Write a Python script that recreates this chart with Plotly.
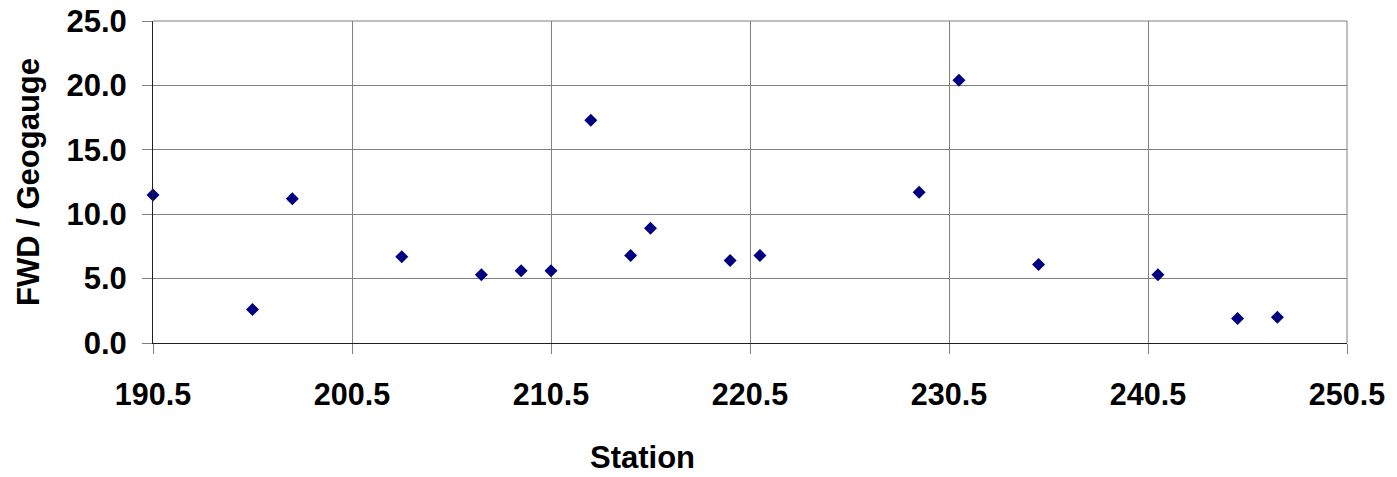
import plotly.graph_objects as go

station = [190.5, 195.5, 197.5, 203.0, 207.0, 209.0, 210.5, 212.5, 214.5, 215.5,
           219.5, 221.0, 229.0, 231.0, 235.0, 241.0, 245.0, 247.0]
ratio = [11.5, 2.6, 11.2, 6.7, 5.3, 5.6, 5.6, 17.3, 6.8, 8.9,
         6.4, 6.8, 11.7, 20.4, 6.1, 5.3, 1.9, 2.0]

x_ticks = [190.5, 200.5, 210.5, 220.5, 230.5, 240.5, 250.5]
y_ticks = [0, 5, 10, 15, 20, 25]

FONT = "Liberation Sans, Arial, sans-serif"

fig = go.Figure()
fig.add_trace(go.Scatter(
    x=station, y=ratio, mode="markers",
    marker=dict(symbol="diamond", size=10, color="#000080", line=dict(width=0)),
    showlegend=False, cliponaxis=False,
))

fig.update_layout(
    width=1397, height=477,
    margin=dict(l=153, r=50, t=21, b=134),
    paper_bgcolor="white", plot_bgcolor="white",
    font=dict(family=FONT, color="black", size=28, weight="bold"),
    xaxis=dict(
        range=[190.5, 250.5], tickmode="array", tickvals=x_ticks,
        ticktext=[f"{v:.1f}" for v in x_ticks],
        showgrid=True, gridcolor="#808080", gridwidth=1,
        showline=True, linecolor="#202020", linewidth=1,
        ticks="outside", ticklen=10, tickcolor="#808080", tickwidth=1,
        ticklabelstandoff=14, automargin=False,
        tickfont=dict(family=FONT, size=30.5, weight="bold"),
        zeroline=False,
    ),
    yaxis=dict(
        range=[0, 25], tickmode="array", tickvals=y_ticks,
        ticktext=[f"{v:.1f}" for v in y_ticks],
        showgrid=True, gridcolor="#808080", gridwidth=1,
        showline=True, linecolor="#202020", linewidth=1,
        ticks="outside", ticklen=10, tickcolor="#808080", tickwidth=1,
        ticklabelstandoff=9, automargin=False,
        tickfont=dict(family=FONT, size=31, weight="bold"),
        zeroline=False,
    ),
    annotations=[
        dict(text="Station", xref="paper", yref="paper",
             x=(642 - 153) / 1194, y=-(457 - 343) / 322,
             xanchor="center", yanchor="middle", showarrow=False,
             font=dict(family=FONT, size=31, weight="bold")),
        dict(text="FWD / Geogauge", xref="paper", yref="paper",
             x=-(153 - 28) / 1194, y=0.5, textangle=-90,
             xanchor="center", yanchor="middle", showarrow=False,
             font=dict(family=FONT, size=31, weight="bold")),
    ],
    shapes=[
        dict(type="line", xref="paper", yref="paper", x0=0, x1=1, y0=1, y1=1,
             line=dict(color="#808080", width=1)),
        dict(type="line", xref="paper", yref="paper", x0=1, x1=1, y0=0, y1=1,
             line=dict(color="#808080", width=1)),
    ],
)

fig.write_html("out.html")
